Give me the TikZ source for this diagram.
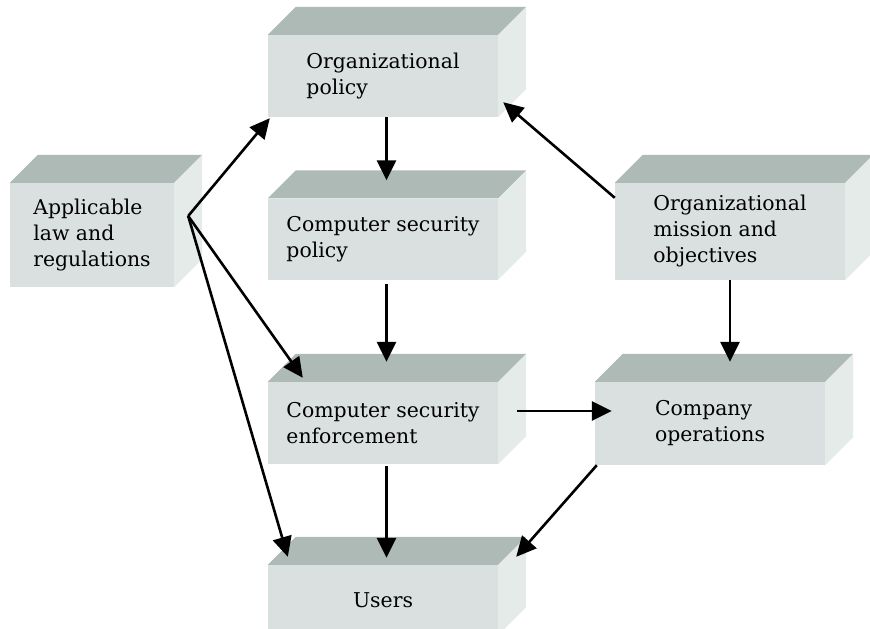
\documentclass[tikz,border=0pt]{standalone}
\usepackage{fontspec}
\setmainfont{DejaVu Serif}
\usetikzlibrary{arrows.meta}
\definecolor{frontgray}{RGB}{218,224,223}
\definecolor{topgray}{RGB}{173,186,182}
\definecolor{sidegray}{RGB}{229,235,233}

\begin{document}
\begin{tikzpicture}[x=1pt,y=-1pt]
\tikzset{box/.style={rectangle,fill=frontgray,minimum width=230pt,minimum height=82pt,
  inner sep=0pt,align=left,font=\fontsize{20.4}{26}\selectfont}}
\tikzset{link/.style={->,line width=2.6pt}}
\tikzset{>={Triangle[length=20pt,width=19pt]}}
\useasboundingbox (0,0) rectangle (870,629);

% boxes (front faces)
\node[box,minimum width=164pt,minimum height=104pt] (law) at (92,235) {Applicable\\law and\\regulations};
\node[box] (pol) at (383,76) {Organizational\\policy};
\node[box,minimum height=81pt] (csp) at (383,239) {Computer security\\policy};
\node[box,minimum height=97pt] (mis) at (730,231.5) {Organizational\\mission and\\objectives};
\node[box] (enf) at (383,423) {Computer security\\enforcement};
\node[box,minimum height=83pt] (ops) at (710,423.5) {Company\\operations};
\node[box,minimum height=70pt] (usr) at (383,600) {Users};

% top and side faces
\foreach \n in {law,pol,csp,mis,enf,ops,usr}{
  \fill[topgray] (\n.north west) -- ++(28,-28) -- ([shift={(28,-28)}]\n.north east) -- (\n.north east) -- cycle;
  \fill[sidegray] (\n.north east) -- ++(28,-28) -- ([shift={(28,-28)}]\n.south east) -- (\n.south east) -- cycle;
}

\coordinate (lawout) at ([shift={(14,-19)}]law.east);

% connectors
\draw[link] ([xshift=3.5pt]pol.south) -- ([shift={(3.5,-18)}]csp.north);
\draw[link] ([shift={(3.5,4)}]csp.south) -- ([shift={(3.5,-20)}]enf.north);
\draw[link] ([shift={(3.5,2)}]enf.south) -- ([shift={(3.5,-7)}]usr.north);
\draw[link] (lawout) -- ([shift={(2,1)}]pol.south west);
\draw[link] (lawout) -- ([shift={(35,-4)}]enf.north west);
\draw[link] (lawout) -- ([shift={(20,-8)}]usr.north west);
\draw[link] ([shift={(0,15)}]mis.north west) -- ([shift={(5,-15)}]pol.south east);
\draw[link] (mis.south) -- ([shift={(20,-20)}]ops.north);
\draw[link] ([shift={(19,-12)}]enf.east) -- ([shift={(17,-12.5)}]ops.west);
\draw[link] ([shift={(2,0)}]ops.south west) -- ([shift={(18,-8)}]usr.north east);
\end{tikzpicture}
\end{document}
